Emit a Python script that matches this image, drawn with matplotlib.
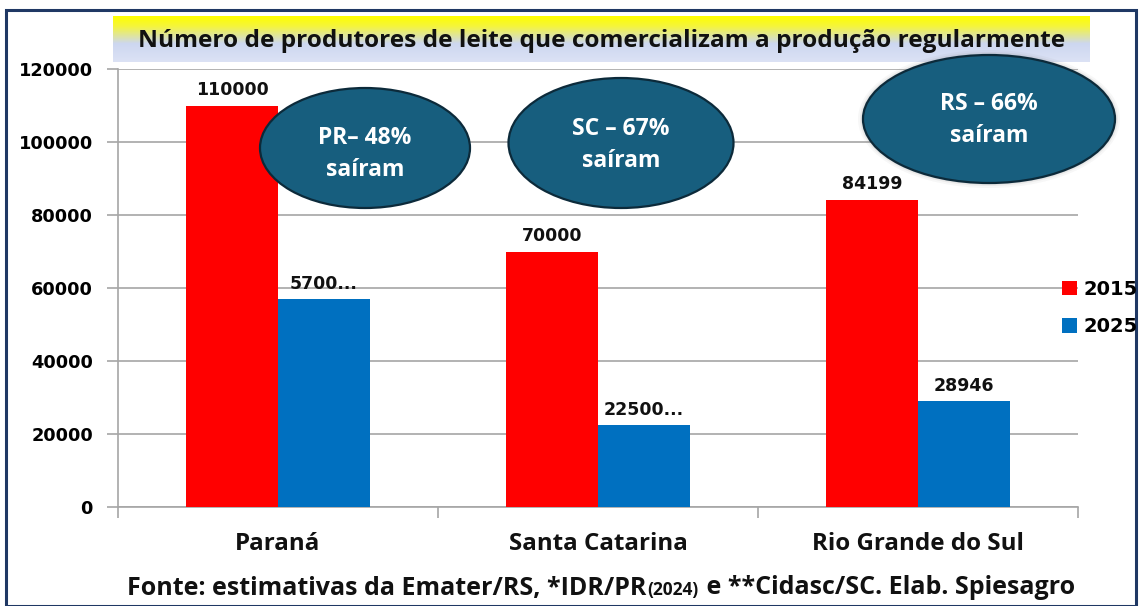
import matplotlib
matplotlib.use("Agg")
import matplotlib.pyplot as plt
import numpy as np
from matplotlib.patches import Ellipse, Rectangle

# Data
states = ["Paraná", "Santa Catarina", "Rio Grande do Sul"]
years = ["2015", "2025"]
values_2015 = [110000, 70000, 84199]
values_2025 = [57000, 22500, 28946]
labels_2015 = ["110000", "70000", "84199"]
labels_2025 = ["5700...", "22500...", "28946"]
bubble_texts = ["PR– 48%\nsaíram", "SC – 67%\nsaíram", "RS – 66%\nsaíram"]
y_ticks = [0, 20000, 40000, 60000, 80000, 100000, 120000]

RED = "#FF0000"
BLUE = "#0070C0"
BUBBLE = "#175E7E"
BUBBLE_EDGE = "#0C2A3A"
GRID = "#A6A6A6"
NAVY = "#1F3864"
SANS = "Open Sans"

W, H = 1141, 606
fig = plt.figure(figsize=(W / 100, H / 100), dpi=100)


def fx(px):
    return px / W


def fy(py):
    return 1 - py / H


# outer frame
fig.patches.append(Rectangle((fx(6), fy(606)), fx(1130), fy(10) - fy(606),
                             transform=fig.transFigure, fill=False,
                             edgecolor=NAVY, linewidth=2.2))

# title band with yellow -> lavender gradient
tax = fig.add_axes([fx(113), fy(62), fx(977), fy(16) - fy(62)])
stops = np.array([[255, 255, 0], [245, 245, 60], [205, 215, 240], [220, 226, 245]]) / 255
pos = np.array([0.0, 0.22, 0.6, 1.0])
t = np.linspace(0, 1, 100)
grad = np.stack([np.interp(t, pos, stops[:, c]) for c in range(3)], axis=1)
tax.imshow(grad[:, None, :], aspect="auto", extent=[0, 1, 0, 1])
tax.set_axis_off()
tax.text(0.5, 0.45, "Número de produtores de leite que comercializam a produção regularmente",
         ha="center", va="center", fontsize=17.6, family=SANS, fontweight="bold",
         color="#111111", transform=tax.transAxes)

# main axes
ax = fig.add_axes([fx(118), fy(507), fx(1078) - fx(118), fy(69) - fy(507)])
x = np.arange(len(states))
bw = 0.2875
ax.bar(x - bw / 2, values_2015, bw, color=RED, label=years[0], zorder=3)
ax.bar(x + bw / 2, values_2025, bw, color=BLUE, label=years[1], zorder=3)

ax.set_xlim(-0.5, 2.5)
ax.set_ylim(0, 120000)
ax.set_yticks(y_ticks)
ax.set_yticklabels([str(v) for v in y_ticks], fontsize=12.8, fontweight="bold",
                   family="DejaVu Sans")
ax.yaxis.grid(True, color=GRID, linewidth=1.2, zorder=0)
ax.set_axisbelow(True)
ax.tick_params(axis="y", length=8, width=1.2, color=GRID, pad=10)

ax.set_xticks([-0.5, 0.5, 1.5, 2.5])
ax.set_xticklabels([])
ax.tick_params(axis="x", length=8, width=1.2, color=GRID)
for i, s in enumerate(states):
    ax.text(i, -0.085, s, transform=ax.get_xaxis_transform(), ha="center",
            va="center", fontsize=17.4, family=SANS, fontweight="bold",
            color="#111111")

for side in ["top", "right"]:
    ax.spines[side].set_visible(False)
for side in ["left", "bottom"]:
    ax.spines[side].set_color(GRID)
    ax.spines[side].set_linewidth(1.2)

# data labels
for i in range(len(states)):
    ax.text(x[i] - bw / 2, values_2015[i] + 4200, labels_2015[i], ha="center",
            va="center", fontsize=12.5, fontweight="bold", color="#111111")
    ax.text(x[i] + bw / 2, values_2025[i] + 4200, labels_2025[i], ha="center",
            va="center", fontsize=12.5, fontweight="bold", color="#111111")

# bubbles (pixel geometry: centre x, centre y, width, height, text centre y)
bubbles = [(365, 148, 210, 120, 154), (621, 143, 225, 130, 145),
           (989, 119, 252, 128, 120)]
for k, ((cx, cy, w, h, ty), txt) in enumerate(zip(bubbles, bubble_texts)):
    if k == 2:
        # soft glow round the RS bubble
        for g, a in [(10, 0.06), (6, 0.1), (3, 0.15)]:
            fig.patches.append(Ellipse((fx(cx), fy(cy)), fx(w + g), fy(0) - fy(h + g),
                                       transform=fig.transFigure, facecolor="#7f7f7f",
                                       edgecolor="none", alpha=a, zorder=9))
    e = Ellipse((fx(cx), fy(cy)), fx(w), fy(0) - fy(h), transform=fig.transFigure,
                facecolor=BUBBLE, edgecolor=BUBBLE_EDGE, linewidth=1.6, zorder=10)
    fig.patches.append(e)
    fig.text(fx(cx), fy(ty), txt, ha="center", va="center", color="white",
             fontsize=16.5, family=SANS, fontweight="bold", linespacing=1.4,
             zorder=11)

# legend
handles, labs = ax.get_legend_handles_labels()
leg = fig.legend(handles, labs, loc="center left", bbox_to_anchor=(fx(1054), fy(308)),
                 frameon=False, prop={"size": 14, "weight": "bold"},
                 handlelength=0.8, handleheight=0.8, handletextpad=0.3,
                 labelspacing=0.95, borderaxespad=0)

# footer
foot_kw = dict(va="center", family=SANS, fontweight="bold", color="#111111")
t1 = fig.text(fx(127), fy(588), "Fonte: estimativas da Emater/RS, *IDR/PR", ha="left",
              fontsize=18, **foot_kw)
fig.canvas.draw()
r = fig.canvas.get_renderer()
bb = t1.get_window_extent(r)
t2 = fig.text(bb.x1 / W + 0.001, fy(590), "(2024)", ha="left", fontsize=12.5, **foot_kw)
bb2 = t2.get_window_extent(r)
fig.text(bb2.x1 / W + 0.001, fy(588), " e **Cidasc/SC. Elab. Spiesagro", ha="left",
         fontsize=18, **foot_kw)

fig.savefig("out.png", dpi=100)
